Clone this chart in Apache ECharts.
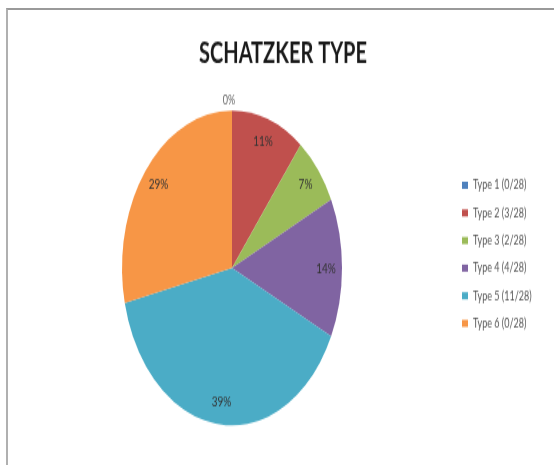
<!DOCTYPE html>
<html>
<head>
<meta charset="utf-8">
<script src="https://cdn.jsdelivr.net/npm/echarts@6/dist/echarts.min.js"></script>
<style>
  html, body { margin: 0; padding: 0; background: #fff; }
  #wrap { position: relative; width: 554px; height: 465px; overflow: hidden; background: #fff; }
  #frame { position: absolute; left: 6px; top: 8px; width: 600px; height: 500px;
           border-top: 2px solid #9a9a9a; border-left: 2px solid #b0b0b0; box-sizing: border-box; }
  #chart { position: absolute; left: 0; top: 0; width: 554px; height: 325px;
           transform: scaleY(1.4308); transform-origin: 0 0; }
</style>
</head>
<body>
<div id="wrap">
  <div id="frame"></div>
  <div id="chart"></div>
</div>
<script>
const titleText = 'SCHATZKER TYPE';
const categories = ['Type 1 (0/28)', 'Type 2 (3/28)', 'Type 3 (2/28)', 'Type 4 (4/28)', 'Type 5 (11/28)', 'Type 6 (0/28)'];
const values = [0, 3, 2, 4, 11, 8];
const colors = ['#4F81BD', '#C0504D', '#9BBB59', '#8064A2', '#4BACC6', '#F79646'];

const fontFam = "Lato, 'Open Sans', sans-serif";
const pctFmt = p => Math.round(p.percent) + '%';

const mainData = categories.map((c, i) => ({
  name: c,
  value: values[i],
  itemStyle: { color: colors[i] },
  label: i === 0 ? { show: true } : { show: false }
}));
const labelData = categories.map((c, i) => ({
  name: c,
  value: values[i],
  label: { show: i !== 0 }
}));

const chart = echarts.init(document.getElementById('chart'), null, { renderer: 'canvas' });
chart.setOption({
  animation: false,
  backgroundColor: 'transparent',
  title: {
    text: titleText,
    left: 278,
    textAlign: 'center',
    top: 23,
    textStyle: { fontFamily: fontFam, fontWeight: 'bold', fontSize: 20, color: '#1a1a1a' }
  },
  legend: {
    orient: 'vertical',
    left: 457,
    top: 118.5,
    itemWidth: 6,
    itemHeight: 5,
    itemGap: 7.3,
    icon: 'rect',
    data: categories,
    textStyle: { fontFamily: fontFam, fontSize: 9, color: '#555', lineHeight: 12 }
  },
  series: [
    {
      type: 'pie',
      center: [232, 187.3],
      radius: [0, 110],
      startAngle: 90,
      clockwise: true,
      silent: true,
      data: mainData,
      label: {
        position: 'outside',
        formatter: pctFmt,
        fontFamily: fontFam,
        fontSize: 9,
        color: '#666'
      },
      labelLine: { show: false, length: 0, length2: 0 },
      labelLayout: params => ({ dx: params.labelRect.width / 2 + 2, dy: -7 }),
      itemStyle: { borderWidth: 0 }
    },
    {
      type: 'pie',
      center: [232, 187.3],
      radius: [72, 110],
      startAngle: 90,
      clockwise: true,
      silent: true,
      data: labelData,
      itemStyle: { color: 'rgba(0,0,0,0)', borderWidth: 0 },
      label: {
        position: 'inside',
        formatter: pctFmt,
        fontFamily: fontFam,
        fontSize: 10,
        color: '#333'
      },
      labelLine: { show: false }
    }
  ]
});
</script>
</body>
</html>
